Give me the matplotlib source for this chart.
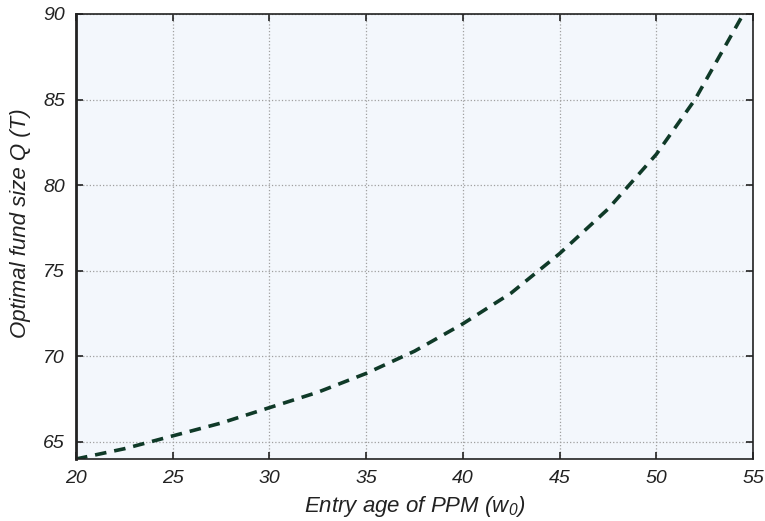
import matplotlib
matplotlib.use("Agg")
import matplotlib.pyplot as plt

entry_age = [20, 22.5, 25, 27.5, 30, 32.5, 35, 37.5, 40, 42.5, 45, 47.5, 50, 52, 54.5]
fund_size = [64.0, 64.6, 65.35, 66.1, 67.0, 67.9, 69.0, 70.3, 71.9, 73.7, 76.0, 78.6, 81.8, 85.0, 90.0]
x_ticks = [20, 25, 30, 35, 40, 45, 50, 55]
y_ticks = [65, 70, 75, 80, 85, 90]

plt.rcParams['font.family'] = ['Liberation Sans', 'DejaVu Sans']
plt.rcParams['mathtext.fontset'] = 'custom'
plt.rcParams['mathtext.it'] = 'Liberation Sans:italic'
plt.rcParams['mathtext.rm'] = 'Liberation Sans:italic'
fig = plt.figure(figsize=(7.65, 5.21), dpi=100)
ax = fig.add_axes([76/765, 1-459/521, (753-76)/765, (459-14)/521])
ax.set_facecolor('#f3f7fc')
ax.plot(entry_age, fund_size, linestyle=(0, (3.2, 2.2)), color='#0f3a28', linewidth=2.6)
ax.set_xlim(20, 55)
ax.set_ylim(64, 90)
ax.set_xticks(x_ticks)
ax.set_yticks(y_ticks)
ax.grid(True, linestyle=':', color='#a0a0a0', linewidth=0.9)
ax.tick_params(direction='in', top=True, right=True, length=5, width=1.2, labelsize=14, pad=8, colors='#222222')
for lbl in ax.get_xticklabels() + ax.get_yticklabels():
    lbl.set_fontstyle('italic')
    lbl.set_color('#222222')
for s in ax.spines.values():
    s.set_linewidth(1.2)
    s.set_color('#222222')
ax.spines['left'].set_linewidth(2)
ax.set_xlabel('Entry age of PPM ($w_0$)', fontsize=16, fontstyle='italic', color='#222222', labelpad=5)
ax.set_ylabel('Optimal fund size Q (T)', fontsize=16, fontstyle='italic', color='#222222')
ax.yaxis.set_label_coords(-0.067, 0.53)
fig.savefig('out.png', dpi=100)
